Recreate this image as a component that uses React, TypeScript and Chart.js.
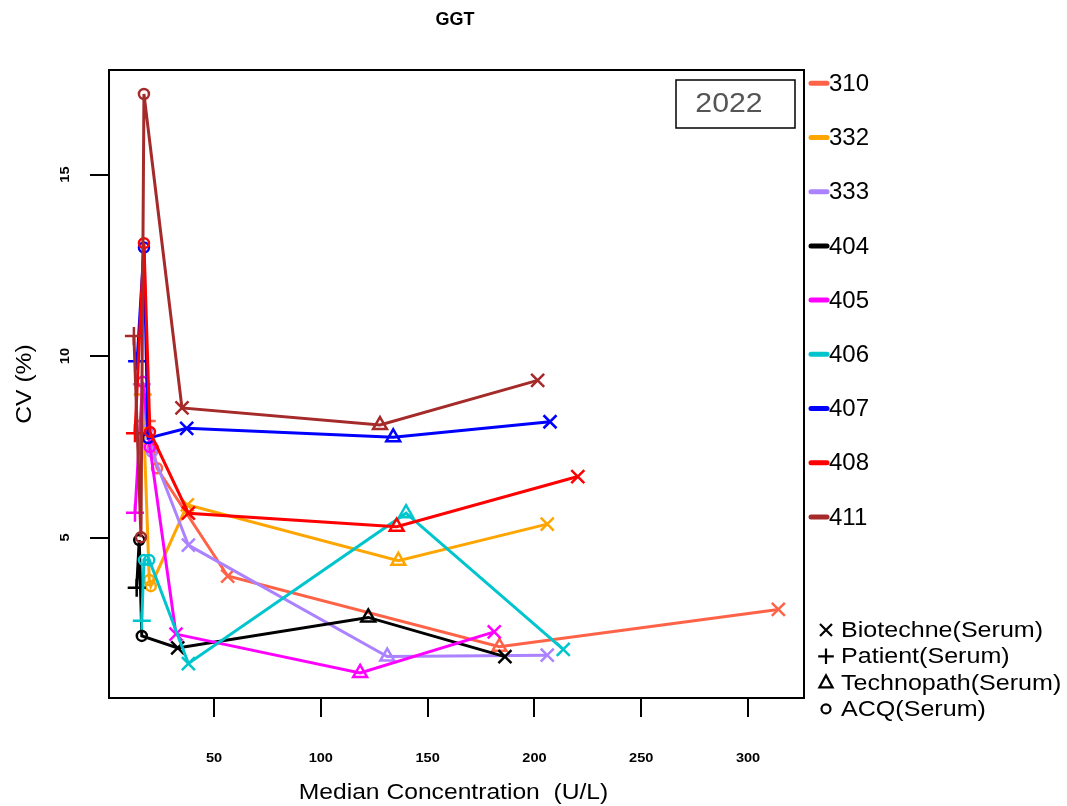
import React, { useEffect, useRef } from 'react';
import { Chart, registerables } from 'chart.js';

Chart.register(...registerables);

// ---- data ----
const chartTitle = 'GGT';
const yearLabel = '2022';
const xAxisTitle = 'Median Concentration  (U/L)';
const yAxisTitle = 'CV (%)';

const seriesNames = ['310', '332', '333', '404', '405', '406', '407', '408', '411'];
const seriesColors = ['#FF6347', '#FFA500', '#AB82FF', '#000000', '#FF00FF', '#00C5CD', '#0000FF', '#FF0000', '#A52A2A'];

// marker kind of each point (same order for every series, sorted by concentration)
const markerKinds = ['Patient', 'ACQ', 'ACQ', 'Biotechne', 'Technopath', 'Biotechne'];
const shapeLegendKinds = ['Biotechne', 'Patient', 'Technopath', 'ACQ'];
const shapeLegendLabels = ['Biotechne(Serum)', 'Patient(Serum)', 'Technopath(Serum)', 'ACQ(Serum)'];

const conc310 = [18.5, 21.4, 23.3, 56.4, 183.6, 314.2];
const cv310 = [8.21, 7.47, 6.91, 3.94, 1.99, 3.02];
const conc332 = [16.6, 19.7, 20.4, 37.5, 136.3, 206.0];
const cv332 = [8.94, 3.83, 3.66, 5.9, 4.36, 5.37];
const conc333 = [16.2, 18.6, 21.0, 38.0, 131.1, 206.0];
const cv333 = [9.22, 7.96, 7.36, 4.79, 1.72, 1.76];
const conc404 = [13.8, 15.0, 16.2, 33.0, 122.2, 186.2];
const cv404 = [3.62, 4.93, 2.29, 1.96, 2.8, 1.72];
const conc405 = [13.0, 16.6, 20.0, 32.2, 118.4, 181.2];
const cv405 = [5.68, 9.29, 7.49, 2.34, 1.27, 2.4];
const conc406 = [16.2, 17.2, 19.7, 38.0, 139.9, 213.5];
const cv406 = [2.71, 4.38, 4.38, 1.53, 5.67, 1.92];
const conc407 = [14.0, 17.2, 19.1, 37.2, 133.9, 207.3];
const cv407 = [9.86, 12.99, 7.74, 8.01, 7.76, 8.19];
const conc408 = [13.0, 17.2, 20.0, 38.0, 135.5, 220.3];
const cv408 = [7.87, 13.11, 7.91, 5.67, 5.3, 6.68];
const conc411 = [12.5, 15.8, 17.2, 35.0, 127.7, 201.5];
const cv411 = [10.55, 5.01, 17.22, 8.57, 8.1, 9.33];

const allConc = [conc310, conc332, conc333, conc404, conc405, conc406, conc407, conc408, conc411];
const allCv = [cv310, cv332, cv333, cv404, cv405, cv406, cv407, cv408, cv411];

const xTicks = [50, 100, 150, 200, 250, 300];
const yTicks = [5, 10, 15];
const xRange = [0.84, 326.2];
const yRange = [0.58, 17.88];

// ---- styling ----
const FONT = '"Liberation Sans", Arial, Helvetica, sans-serif';
const STRETCH = 1.12;
const markerStyle: Record<string, any> = {
  Patient: 'cross',
  ACQ: 'circle',
  Biotechne: 'crossRot',
  Technopath: 'triangle',
};
const markerRadius: Record<string, number> = {
  Patient: 9,
  ACQ: 5,
  Biotechne: 9.2,
  Technopath: 8,
};

// text slightly widened along its own direction, as in the reference rendering
function stretchedText(ctx: CanvasRenderingContext2D, text: string, x: number, y: number, rotate = 0) {
  ctx.save();
  ctx.translate(x, y);
  if (rotate) ctx.rotate(rotate);
  ctx.scale(STRETCH, 1);
  ctx.fillText(text, 0, 0);
  ctx.restore();
}

function drawShape(ctx: CanvasRenderingContext2D, kind: string, x: number, y: number, r: number) {
  ctx.beginPath();
  if (kind === 'Biotechne') {
    ctx.moveTo(x - r, y - r); ctx.lineTo(x + r, y + r);
    ctx.moveTo(x + r, y - r); ctx.lineTo(x - r, y + r);
  } else if (kind === 'Patient') {
    ctx.moveTo(x - r * 1.3, y); ctx.lineTo(x + r * 1.3, y);
    ctx.moveTo(x, y - r * 1.3); ctx.lineTo(x, y + r * 1.3);
  } else if (kind === 'Technopath') {
    ctx.moveTo(x, y - r * 1.2);
    ctx.lineTo(x + r * 1.1, y + r * 0.8);
    ctx.lineTo(x - r * 1.1, y + r * 0.8);
    ctx.closePath();
  } else {
    ctx.arc(x, y, r * 0.75, 0, Math.PI * 2);
  }
  ctx.stroke();
}

const decorPlugin = {
  id: 'decor',
  afterDraw(chart: any) {
    const { ctx, chartArea } = chart;
    const xs = chart.scales.x;
    const ys = chart.scales.y;
    ctx.save();
    // plot box
    ctx.strokeStyle = '#000';
    ctx.lineWidth = 2;
    ctx.strokeRect(chartArea.left, chartArea.top, chartArea.right - chartArea.left, chartArea.bottom - chartArea.top);

    ctx.fillStyle = '#000';
    // x tick labels
    ctx.font = `bold 13px ${FONT}`;
    ctx.textAlign = 'center';
    ctx.textBaseline = 'middle';
    xTicks.forEach((v) => {
      stretchedText(ctx, String(v), xs.getPixelForValue(v), 758);
    });
    // y tick labels (rotated)
    yTicks.forEach((v) => {
      stretchedText(ctx, String(v), 65, ys.getPixelForValue(v), -Math.PI / 2);
    });
    // axis titles
    ctx.font = `22px ${FONT}`;
    stretchedText(ctx, xAxisTitle, (chartArea.left + chartArea.right) / 2 - 3, 793);
    stretchedText(ctx, yAxisTitle, 25, (chartArea.top + chartArea.bottom) / 2, -Math.PI / 2);
    // main title
    ctx.font = `bold 18px ${FONT}`;
    ctx.fillText(chartTitle, 455, 20);

    // year box
    ctx.lineWidth = 1.5;
    ctx.strokeRect(676, 80, 119, 48);
    ctx.fillStyle = '#555';
    ctx.font = `27px ${FONT}`;
    stretchedText(ctx, yearLabel, 729, 105);

    // colour legend
    ctx.font = `24px ${FONT}`;
    ctx.textAlign = 'left';
    seriesNames.forEach((name, i) => {
      const y = 83.3 + i * 54.2;
      ctx.strokeStyle = seriesColors[i];
      ctx.lineWidth = 5;
      ctx.lineCap = 'round';
      ctx.beginPath();
      ctx.moveTo(811, y);
      ctx.lineTo(827, y);
      ctx.stroke();
      ctx.fillStyle = '#000';
      ctx.fillText(name, 829, y + 1);
    });

    // shape legend
    ctx.lineCap = 'butt';
    ctx.font = `22.4px ${FONT}`;
    shapeLegendKinds.forEach((kind, i) => {
      const y = 630 + i * 26.3;
      ctx.strokeStyle = '#000';
      ctx.lineWidth = 2.2;
      drawShape(ctx, kind, 826, y, 6);
      ctx.fillStyle = '#000';
      stretchedText(ctx, shapeLegendLabels[i], 841, y + 1);
    });
    ctx.restore();
  },
};

export default function App() {
  const ref = useRef<HTMLCanvasElement>(null);
  useEffect(() => {
    const canvas = ref.current;
    if (!canvas) return;
    const datasets = seriesNames.map((name, i) => ({
      label: name,
      data: allConc[i].map((x, j) => ({ x, y: allCv[i][j] })),
      showLine: true,
      borderColor: seriesColors[i],
      backgroundColor: seriesColors[i],
      borderWidth: 3,
      tension: 0,
      pointStyle: markerKinds.map((k) => markerStyle[k]),
      pointRadius: markerKinds.map((k) => markerRadius[k]),
      pointBorderColor: seriesColors[i],
      pointBackgroundColor: 'rgba(0,0,0,0)',
      pointBorderWidth: 2.5,
      order: seriesNames.length - 1 - i,
    }));
    const chart = new Chart(canvas, {
      type: 'scatter',
      data: { datasets },
      options: {
        animation: false,
        responsive: false,
        devicePixelRatio: 1,
        events: [],
        layout: { padding: { top: 70, right: 263, bottom: 0, left: 0 } },
        plugins: {
          legend: { display: false },
          tooltip: { enabled: false },
          title: { display: false },
        },
        scales: {
          x: {
            type: 'linear',
            min: xRange[0],
            max: xRange[1],
            afterBuildTicks: (s: any) => {
              s.ticks = xTicks.map((v) => ({ value: v }));
            },
            afterFit: (s: any) => {
              s.height = 108;
            },
            grid: { drawOnChartArea: false, drawTicks: true, tickLength: 19, color: '#000', lineWidth: 2 },
            border: { display: false },
            ticks: { display: false },
          },
          y: {
            type: 'linear',
            min: yRange[0],
            max: yRange[1],
            afterBuildTicks: (s: any) => {
              s.ticks = yTicks.map((v) => ({ value: v }));
            },
            afterFit: (s: any) => {
              s.width = 109;
            },
            grid: { drawOnChartArea: false, drawTicks: true, tickLength: 19, color: '#000', lineWidth: 2 },
            border: { display: false },
            ticks: { display: false },
          },
        },
      },
      plugins: [decorPlugin],
    } as any);
    return () => chart.destroy();
  }, []);
  return (
    <div style={{ position: 'absolute', left: 0, top: 0, width: 1067, height: 806, background: '#fff' }}>
      <canvas ref={ref} width={1067} height={806} style={{ display: 'block', width: 1067, height: 806 }} />
    </div>
  );
}
